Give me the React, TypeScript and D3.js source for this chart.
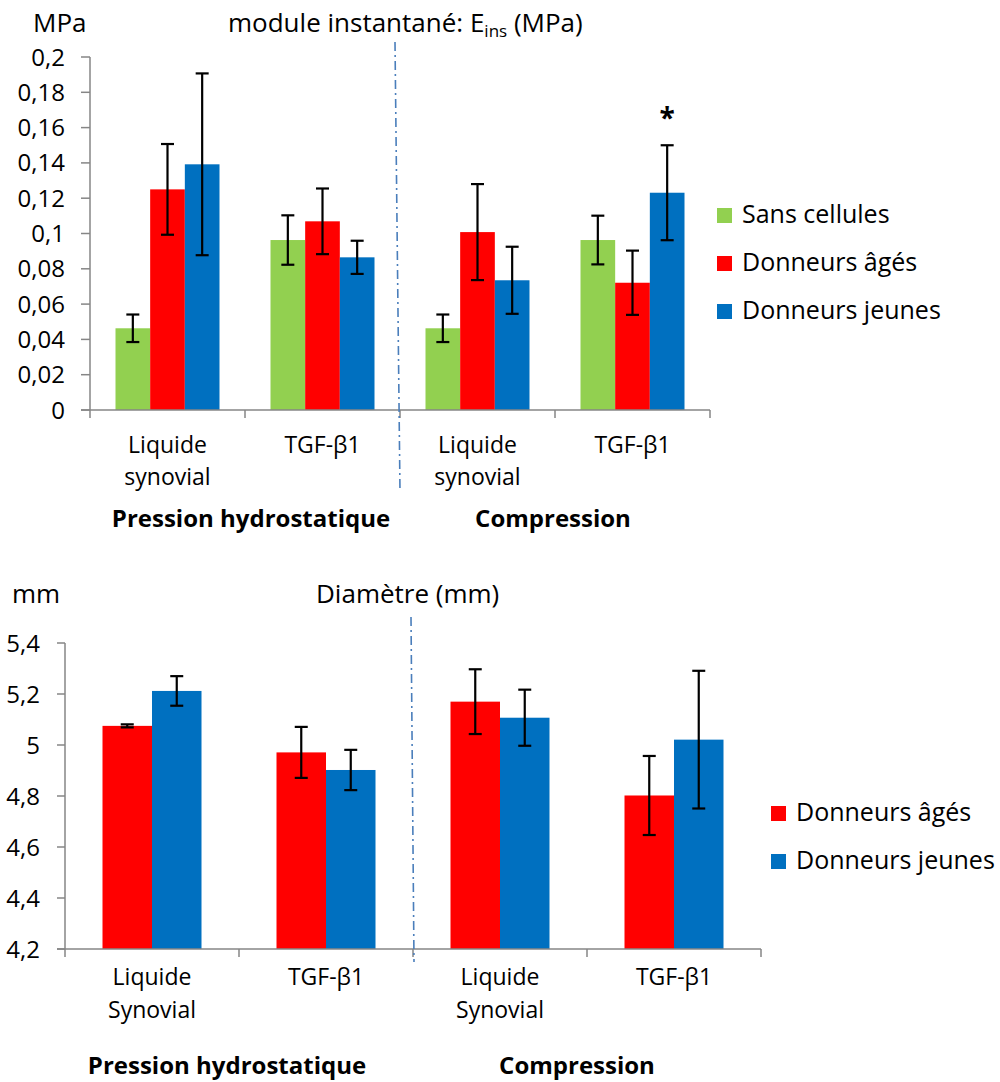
import React from "react";
import * as d3 from "d3";

// ---------- Data ----------
const categories = ["Liquide synovial", "TGF-β1", "Liquide synovial", "TGF-β1"];
const catLinesTop = [["Liquide", "synovial"], ["TGF-β1"], ["Liquide", "synovial"], ["TGF-β1"]];
const catLinesBottom = [["Liquide", "Synovial"], ["TGF-β1"], ["Liquide", "Synovial"], ["TGF-β1"]];
const groupLabels = ["Pression hydrostatique", "Compression"];

const topSeriesNames = ["Sans cellules", "Donneurs âgés", "Donneurs jeunes"];
const topSansCellules = [0.0463, 0.0963, 0.0463, 0.0963];
const topSansCellulesErr = [0.0078, 0.014, 0.0078, 0.0138];
const topAges = [0.125, 0.1069, 0.1008, 0.0721];
const topAgesErr = [0.0257, 0.0186, 0.0272, 0.0182];
const topJeunes = [0.1392, 0.0865, 0.0735, 0.1231];
const topJeunesErr = [0.0515, 0.0094, 0.019, 0.0269];
const topTicks = [0, 0.02, 0.04, 0.06, 0.08, 0.1, 0.12, 0.14, 0.16, 0.18, 0.2];

const bottomSeriesNames = ["Donneurs âgés", "Donneurs jeunes"];
const botAges = [5.075, 4.971, 5.17, 4.802];
const botAgesErr = [0.006, 0.1, 0.127, 0.155];
const botJeunes = [5.212, 4.902, 5.107, 5.021];
const botJeunesErr = [0.058, 0.079, 0.11, 0.27];
const bottomTicks = [4.2, 4.4, 4.6, 4.8, 5, 5.2, 5.4];

const GREEN = "#92d050";
const RED = "#ff0000";
const BLUE = "#0070c0";
const AXIS = "#868686";
const DIVIDER = "#4a7ebb";
const FONT = "'Open Sans', sans-serif";
const FS = 23;
const FS_TICK = 24;
const FS_BOLD = 24;
const FS_TITLE = 26;
const FS_LEGEND = 25;

const fmt = (v: number) => String(+v.toFixed(2)).replace(".", ",");

type Series = { name: string; color: string; values: number[]; errors: number[] };

function BarChart(props: {
  series: Series[];
  lines: string[][];
  domain: [number, number];
  ticks: number[];
  xRange: [number, number];
  yRange: [number, number];
  padding: number;
  tickLeft: number;
  labelRight: number;
  labelBaselines: number[];
  groupCenters: number[];
  groupBaseline: number;
  divider: [number, number, number, number];
  legendX: number;
  legendY: number[];
  star?: { cat: number; series: number; y: number };
}) {
  const p = props;
  const x = d3.scaleBand<number>().domain(d3.range(categories.length)).range(p.xRange).paddingInner(p.padding).paddingOuter(p.padding / 2);
  const xs = d3.scaleBand<number>().domain(d3.range(p.series.length)).range([0, x.bandwidth()]);
  const y = d3.scaleLinear().domain(p.domain).range(p.yRange);
  const y0 = p.yRange[0];
  const step = x.step();
  const cap = 6.5;
  return (
    <g fontFamily={FONT} fontSize={FS}>
      {p.series.map((s, si) =>
        s.values.map((v, ci) => (
          <rect key={`b${si}-${ci}`} x={x(ci)! + xs(si)!} y={y(v)} width={xs.bandwidth()} height={y0 - y(v)} fill={s.color} />
        ))
      )}
      {p.series.map((s, si) =>
        s.values.map((v, ci) => {
          const cx = x(ci)! + xs(si)! + xs.bandwidth() / 2;
          const t = y(v + s.errors[ci]);
          const b = y(v - s.errors[ci]);
          return (
            <g key={`e${si}-${ci}`} stroke="#000" strokeWidth={2.2}>
              <line x1={cx} x2={cx} y1={t} y2={b} />
              <line x1={cx - cap} x2={cx + cap} y1={t} y2={t} />
              <line x1={cx - cap} x2={cx + cap} y1={b} y2={b} />
            </g>
          );
        })
      )}
      <line x1={p.xRange[0]} x2={p.xRange[0]} y1={p.yRange[0]} y2={p.yRange[1]} stroke={AXIS} strokeWidth={1.5} />
      {p.ticks.map((t) => (
        <g key={`t${t}`}>
          <line x1={p.tickLeft} x2={p.xRange[0]} y1={y(t)} y2={y(t)} stroke={AXIS} strokeWidth={1.5} />
          <text x={p.labelRight} y={y(t) + 8.5} textAnchor="end" fontSize={FS_TICK} fill="#000">{fmt(t)}</text>
        </g>
      ))}
      <line x1={p.tickLeft} x2={p.xRange[1]} y1={y0} y2={y0} stroke={AXIS} strokeWidth={1.5} />
      {d3.range(categories.length + 1).map((i) => (
        <line key={`xt${i}`} x1={p.xRange[0] + i * step} x2={p.xRange[0] + i * step} y1={y0} y2={y0 + 8} stroke={AXIS} strokeWidth={1.5} />
      ))}
      {p.lines.map((ls, ci) =>
        ls.map((l, li) => (
          <text key={`c${ci}-${li}`} x={x(ci)! + x.bandwidth() / 2} y={p.labelBaselines[li]} textAnchor="middle" fill="#000">{l}</text>
        ))
      )}
      {groupLabels.map((g, gi) => (
        <text key={`g${gi}`} x={p.groupCenters[gi]} y={p.groupBaseline} textAnchor="middle" fontWeight="bold" fontSize={FS_BOLD} fill="#000">{g}</text>
      ))}
      <line x1={p.divider[0]} y1={p.divider[1]} x2={p.divider[2]} y2={p.divider[3]} stroke={DIVIDER} strokeWidth={1.6} strokeDasharray="9,4,2,4" />
      {p.star && (
        <text x={x(p.star.cat)! + xs(p.star.series)! + xs.bandwidth() / 2} y={p.star.y} textAnchor="middle" fontWeight="bold" fontSize={28} fill="#000">*</text>
      )}
      {p.series.map((s, si) => (
        <g key={`l${si}`}>
          <rect x={p.legendX} y={p.legendY[si] - 15} width={15} height={15} fill={s.color} />
          <text x={p.legendX + 25} y={p.legendY[si]} fontSize={FS_LEGEND} fill="#000">{s.name}</text>
        </g>
      ))}
    </g>
  );
}

export default function App() {
  const topSeries: Series[] = [
    { name: topSeriesNames[0], color: GREEN, values: topSansCellules, errors: topSansCellulesErr },
    { name: topSeriesNames[1], color: RED, values: topAges, errors: topAgesErr },
    { name: topSeriesNames[2], color: BLUE, values: topJeunes, errors: topJeunesErr },
  ];
  const bottomSeries: Series[] = [
    { name: bottomSeriesNames[0], color: RED, values: botAges, errors: botAgesErr },
    { name: bottomSeriesNames[1], color: BLUE, values: botJeunes, errors: botJeunesErr },
  ];
  return (
    <svg width={1000} height={1082} style={{ position: "absolute", left: 0, top: 0, background: "#fff" }}>
      <rect width={1000} height={1082} fill="#fff" />
      <g fontFamily={FONT} fontSize={FS_TITLE} fill="#000">
        <text x={33} y={32}>MPa</text>
        <text x={228} y={32}>
          module instantané: E
          <tspan fontSize={17} dy={5}>ins</tspan>
          <tspan dy={-5}> (MPa)</tspan>
        </text>
        <text x={12} y={603}>mm</text>
        <text x={316} y={603}>Diamètre (mm)</text>
      </g>
      <BarChart
        series={topSeries}
        lines={catLinesTop}
        domain={[0, 0.2]}
        ticks={topTicks}
        xRange={[90, 710]}
        yRange={[410, 57]}
        padding={51 / 155}
        tickLeft={81}
        labelRight={65}
        labelBaselines={[453, 485]}
        groupCenters={[251, 553]}
        groupBaseline={527}
        divider={[395, 42, 400, 492]}
        legendX={717}
        legendY={[223, 271, 319]}
        star={{ cat: 3, series: 2, y: 128 }}
      />
      <BarChart
        series={bottomSeries}
        lines={catLinesBottom}
        domain={[4.2, 5.4]}
        ticks={bottomTicks}
        xRange={[65, 761]}
        yRange={[949, 643]}
        padding={75 / 174}
        tickLeft={57}
        labelRight={40}
        labelBaselines={[985, 1018]}
        groupCenters={[227, 577]}
        groupBaseline={1074}
        divider={[411, 617, 414, 962]}
        legendX={771}
        legendY={[821, 869]}
      />
    </svg>
  );
}
